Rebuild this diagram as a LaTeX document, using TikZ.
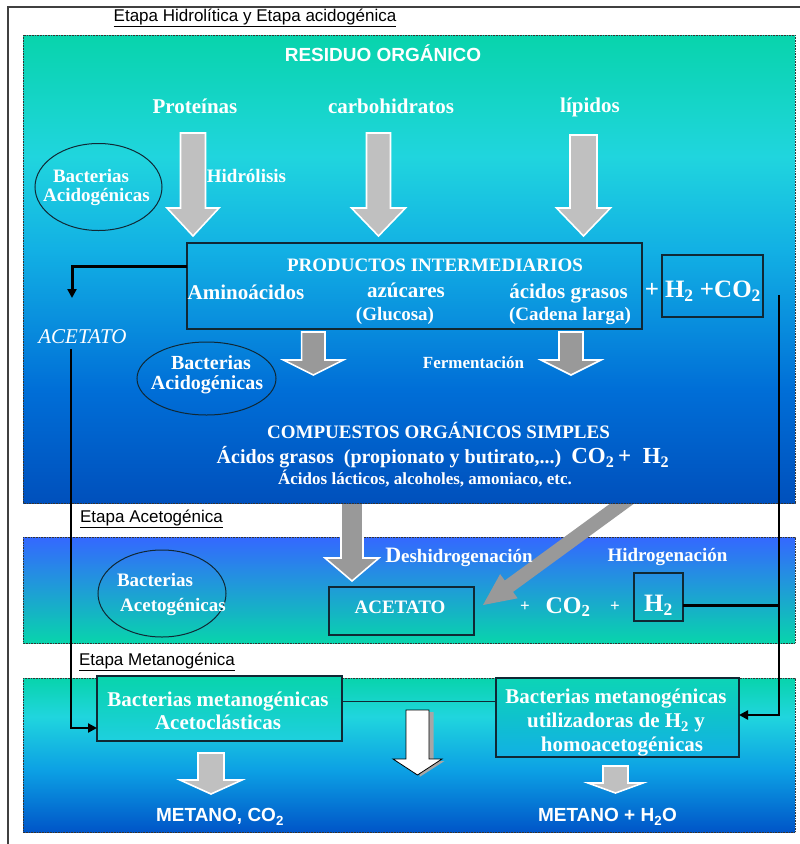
\documentclass[tikz,border=0pt]{standalone}
\usepackage{fontspec}
\setmainfont{Liberation Serif}
\newfontfamily\arialf{Liberation Sans}
\usetikzlibrary{arrows.meta,shapes.geometric,calc}

\definecolor{tealA}{RGB}{8,212,172}
\definecolor{cyanA}{RGB}{32,213,222}
\definecolor{blueA}{RGB}{18,176,228}
\definecolor{blueB}{RGB}{0,110,215}
\definecolor{blueC}{RGB}{0,80,188}
\definecolor{blueTop}{RGB}{52,104,255}
\definecolor{blueMid}{RGB}{12,160,228}
\definecolor{blueLow}{RGB}{0,85,200}
\definecolor{arrowLight}{RGB}{192,192,192}
\definecolor{arrowDark}{RGB}{153,153,153}
\definecolor{boxC}{RGB}{16,40,52}
\definecolor{frameC}{RGB}{64,64,64}

\pgfdeclareverticalshading{bandA}{100bp}{color(0bp)=(blueC); color(25bp)=(blueC); color(37bp)=(blueB); color(52bp)=(blueA); color(62bp)=(cyanA); color(75bp)=(tealA); color(100bp)=(tealA)}
\pgfdeclareverticalshading{bandB}{100bp}{color(0bp)=(tealA); color(25bp)=(tealA); color(75bp)=(blueTop); color(100bp)=(blueTop)}
\pgfdeclareverticalshading{bandC}{100bp}{color(0bp)=(blueLow); color(25bp)=(blueLow); color(45bp)=(blueMid); color(62.5bp)=(cyanA); color(75bp)=(tealA); color(100bp)=(tealA)}

\newcommand{\blkarrow}[7]{\path[#7] ({#1-#5},#2) -- ({#1+#5},#2) -- ({#1+#5},#3) -- ({#1+#6},#3) -- (#1,#4) -- ({#1-#6},#3) -- ({#1-#5},#3) -- cycle;}

\begin{document}
\begin{tikzpicture}[x=1pt,y=-1pt,
  bandborder/.style={draw=black!80, line width=0.7pt, dash pattern=on 0.8pt off 0.8pt},
  garrowL/.style={fill=arrowLight, draw=white, line width=1.6pt, line join=miter},
  garrowD/.style={fill=arrowDark, draw=white, line width=1.6pt, line join=miter},
  wt/.style={text=white, inner sep=0pt},
  sansT/.style={inner sep=0pt, font={\arialf\fontsize{17}{19}\selectfont}},
  sansW/.style={wt, font={\arialf\bfseries\fontsize{19}{21}\selectfont}},
  s17/.style={wt, font={\bfseries\fontsize{17}{19}\selectfont}},
  s19/.style={wt, font={\bfseries\fontsize{19}{21}\selectfont}},
  s20/.style={wt, font={\bfseries\fontsize{20}{22}\selectfont}},
  s21/.style={wt, font={\bfseries\fontsize{21}{23}\selectfont}},
  s25/.style={wt, font={\bfseries\fontsize{25}{27}\selectfont}},
  bx/.style={draw=boxC, line width=1.3pt, rectangle, inner sep=0pt},
  ell/.style={draw=boxC, line width=1pt, ellipse, inner sep=0pt},
  blkline/.style={draw=black, line width=3pt},
  blkthin/.style={draw=black, line width=2.4pt},
  tip/.style={-{Triangle[length=9pt,width=9pt]}}
]
\useasboundingbox (0,0) rectangle (800,844);
\fill[white] (0,0) rectangle (800,844);
\draw[frameC, line width=1.2pt] (8,844) -- (8,7) -- (800,7);

% ---- bands 2 and 3
\shade[shading=bandB] (23,537) rectangle (795,643);
\draw[bandborder] (23,537) rectangle (795,643);
\shade[shading=bandC] (23,678) rectangle (795,832);
\draw[bandborder] (23,678) rectangle (795,832);

% diagonal arrow and big vertical arrow (tails hidden under band 1)
\fill[arrowDark] (648.7,492.9) -- (513.0,591.9) -- (517.7,598.3) -- (483,605) -- (500.1,574.1) -- (504.8,580.5) -- (640.5,481.5) -- cycle;
\blkarrow{352}{495}{558}{581}{11}{27}{garrowD}

% ---- band 1
\shade[shading=bandA] (23,35) rectangle (795,503);
\draw[bandborder] (23,35) rectangle (795,503);

% titles
\node[sansT] (t1) at (255,18) {\underline{Etapa Hidrolítica y Etapa acidogénica}};
\node[sansT] (t2) at (151.5,519) {\underline{Etapa Acetogénica}};
\node[sansT] (t3) at (157,662) {\underline{Etapa Metanogénica}};

% band 1 content
\node[sansW] (res) at (383,53) {RESIDUO ORGÁNICO};
\node[s21] (prot) at (195,106) {Proteínas};
\node[s21] (carb) at (391,106) {carbohidratos};
\node[s21] (lip) at (590,107.5) {lípidos};

\blkarrow{193}{133}{208}{236}{12.5}{26}{garrowL}
\blkarrow{378.5}{133}{208}{236}{12}{27}{garrowL}
\blkarrow{583.5}{135}{208}{236}{13.5}{27}{garrowL}

\node[ell, minimum width=127pt, minimum height=87pt] (ell1) at (98.5,187) {};
\node[s19] (ell1a) at (91,176) {Bacterias};
\node[s19] (ell1b) at (96.5,197) {Acidogénicas};
\node[s19] (hidro) at (246.5,176) {Hidrólisis};

\node[bx, minimum width=455pt, minimum height=86pt] (prod) at (414.5,286) {};
\node[s19] (prodT) at (435,265) {PRODUCTOS INTERMEDIARIOS};
\node[s21] (amino) at (246,292) {Aminoácidos};
\node[s21] (azuc) at (406,290.5) {azúcares};
\node[s21] (acgr) at (568.5,293.5) {ácidos grasos};
\node[s19] (gluc) at (395,316) {(Glucosa)};
\node[s19] (cad) at (570,316) {(Cadena larga)};
\node[s25] (plus1) at (652,290) {+};
\node[bx, minimum width=101pt, minimum height=62pt] (hco) at (712.5,286) {};
\node[s25] (hcoT) at (713,291) {H\textsubscript{2} +CO\textsubscript{2}};

\node[wt, font={\itshape\fontsize{21}{23}\selectfont}] (acetL) at (82.5,337) {ACETATO};

\node[ell, minimum width=139pt, minimum height=73pt] (ell2) at (206.5,378.5) {};
\node[s20] (ell2a) at (211,363) {Bacterias};
\node[s20] (ell2b) at (207,385) {Acidogénicas};

\blkarrow{313.3}{332}{360}{375}{11.7}{30}{garrowD}
\blkarrow{571}{332}{360}{375}{12}{30}{garrowD}
\node[s17] (ferm) at (473.5,363) {Fermentación};

\node[s19] (comp) at (438.5,430) {COMPUESTOS ORGÁNICOS SIMPLES};
\node[wt, font=\bfseries] (acgr2) at (443,457) {{\fontsize{20}{22}\selectfont Ácidos grasos\ \ (propionato y butirato,...)\ \ }{\fontsize{23}{25}\selectfont CO\textsubscript{2}\,+\ \ H\textsubscript{2}}};
\node[s17] (lact) at (425,479) {Ácidos lácticos, alcoholes, amoniaco, etc.};

% band 2 content
\node[s19] (desh) at (459,557) {{\fontsize{22}{24}\selectfont D}eshidrogenación};
\node[s19] (hidrog) at (667.5,557) {Hidrogenación};
\node[ell, minimum width=128pt, minimum height=87pt] (ell3) at (162,593.5) {};
\node[s19] (ell3a) at (155,580) {Bacterias};
\node[s19] (ell3b) at (173,607) {Acetogénicas};
\node[bx, minimum width=145pt, minimum height=48pt] (acbox) at (401.5,611) {};
\node[s19] (acboxT) at (400,607) {ACETATO};
\node[s17] (plus2) at (525,607) {+};
\node[wt, font={\bfseries\fontsize{24}{26}\selectfont}] (co2) at (568,607) {CO\textsubscript{2}};
\node[s17] (plus3) at (615,607) {+};
\node[bx, minimum width=49pt, minimum height=48pt] (h2box) at (658.5,597) {};
\node[s25] (h2T) at (658.5,605) {H\textsubscript{2}};

% band 3 content
\node[bx, top color=tealA, bottom color=cyanA!85!blueA, minimum width=245pt, minimum height=65pt] (bma) at (219.5,708.5) {};
\node[s21, align=center, font={\bfseries\fontsize{21}{23}\selectfont}] (bmaT) at (218,710.5) {Bacterias metanogénicas\\Acetoclásticas};
\node[bx, top color=tealA!80!cyanA, bottom color=blueA, minimum width=243pt, minimum height=79pt] (bmh) at (617.5,717.5) {};
\node[s21, align=center, font={\bfseries\fontsize{21}{24}\selectfont}] (bmhT) at (616,723) {Bacterias metanogénicas\\utilizadoras de H\textsubscript{2} y\\\hspace*{12pt}homoacetogénicas};

\coordinate (linkL) at (342,701);
\coordinate (linkR) at (496,701);
\draw[draw=boxC, line width=1pt] (linkL) -- (linkR);

\fill[black!35] (419.5,712) -- (433.5,712) -- (433.5,761) -- (444.5,761) -- (419.5,777) -- cycle;
\blkarrow{417.5}{710}{759}{775}{11.5}{24.5}{fill=white, draw=black, line width=0.8pt}

\blkarrow{211}{753}{780}{794}{13}{31}{garrowL}
\blkarrow{615.5}{766}{783}{793}{12.5}{27.5}{garrowL}

\node[sansW] (met1) at (220,817) {METANO, CO\textsubscript{2}};
\node[sansW] (met2) at (607.5,817) {METANO + H\textsubscript{2}O};

% ---- black connectors
\coordinate (prodL) at (187,266);
\coordinate (acetDown) at (72,298);
\draw[blkline, tip] (prodL) -| (acetDown);

\coordinate (acetStart) at (71,349);
\coordinate (bmaIn) at (97,728);
\draw[blkthin, tip] (acetStart) |- (bmaIn);

\coordinate (rTop) at (779,295);
\coordinate (bmhIn) at (739,715);
\draw[blkthin, tip] (rTop) |- (bmhIn);

\coordinate (h2R) at (683,605);
\coordinate (rJoin) at (779,605);
\draw[blkline] (h2R) -- (rJoin);
\end{tikzpicture}
\end{document}
